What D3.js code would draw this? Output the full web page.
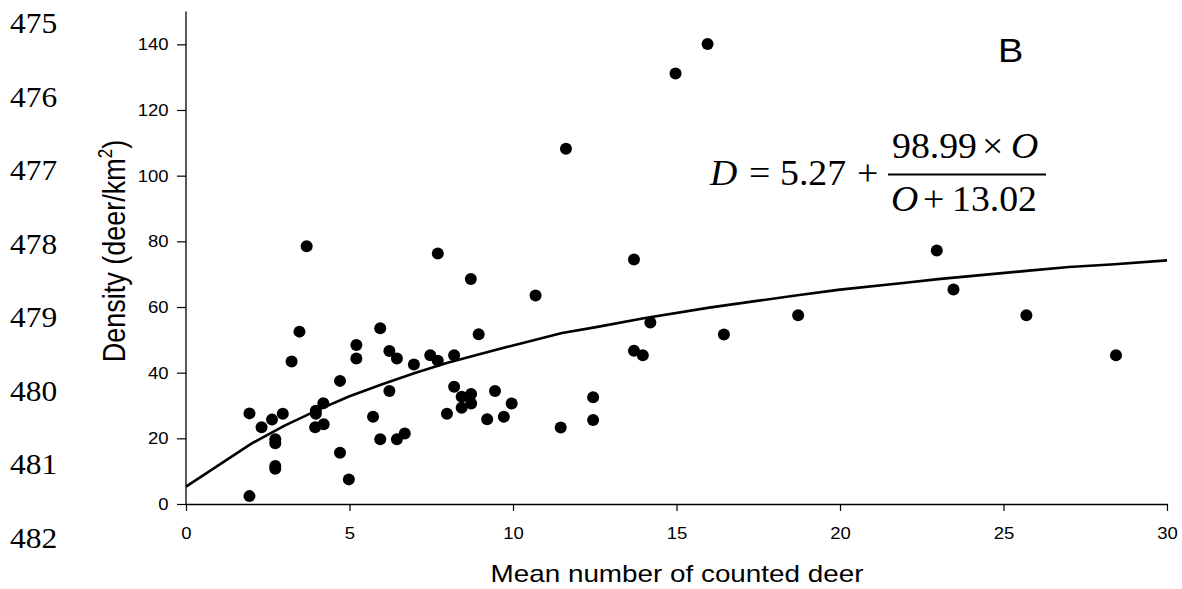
<!DOCTYPE html>
<html>
<head>
<meta charset="utf-8">
<script src="https://cdn.jsdelivr.net/npm/d3@7"></script>
<style>
  html, body { margin: 0; padding: 0; background: #fff; }
  svg { display: block; }
</style>
</head>
<body>
<svg id="chart" width="1182" height="589"></svg>
<script>
// 观测数据：平均计数 (x) 与密度 (y)
const countedDeer = [
  1.94, 2.31, 2.63, 2.96, 2.73, 2.73, 2.73, 2.73, 1.94, 3.23,
  3.47, 3.69, 3.97, 3.97, 4.20, 3.95, 4.21, 4.71, 4.71, 4.98,
  5.21, 5.21, 5.72, 5.94, 5.94, 6.22, 6.45, 6.22, 6.45, 6.69,
  6.97, 7.47, 7.70, 7.70, 8.20, 8.20, 7.98, 8.43, 8.72, 8.43,
  8.72, 8.71, 8.95, 9.21, 9.45, 9.72, 9.96, 10.69, 11.46, 11.62,
  12.45, 12.45, 13.70, 13.70, 13.97, 14.20, 14.97, 15.95, 16.45, 18.72,
  22.96, 23.47, 25.70, 28.44
];
const density = [
  27.6, 23.4, 25.7, 27.5, 19.7, 18.5, 11.6, 10.7, 2.4, 43.4,
  52.5, 78.5, 28.4, 27.5, 30.7, 23.4, 24.3, 37.5, 15.6, 7.5,
  48.4, 44.3, 26.6, 53.5, 19.7, 46.6, 44.3, 34.4, 19.7, 21.5,
  42.5, 45.3, 43.6, 76.3, 45.3, 35.7, 27.5, 32.7, 33.5, 29.3,
  30.6, 68.5, 51.7, 25.8, 34.4, 26.6, 30.6, 63.5, 23.3, 108.2,
  32.5, 25.6, 74.5, 46.7, 45.3, 55.3, 131.1, 140.1, 51.6, 57.5,
  77.2, 65.3, 57.5, 45.3
];

// 拟合曲线
const fitX = [0, 2, 3, 4, 5, 6, 7, 8, 9, 10, 11.5, 12.5, 14, 16, 18.7, 20, 22, 23, 25.7, 27, 28.4, 30];
const fitY = [5.3, 18.4, 23.8, 28.5, 32.8, 36.5, 39.9, 43.0, 45.7, 48.3, 52.1, 53.8, 56.6, 59.8, 63.6, 65.3, 67.4, 68.5, 71.0, 72.2, 73.0, 74.2];

// 刻度
const xTicks = [0, 5, 10, 15, 20, 25, 30];
const yTicks = [0, 20, 40, 60, 80, 100, 120, 140];

// 左侧行号
const lineNumbers = ['475', '476', '477', '478', '479', '480', '481', '482'];

const svg = d3.select('#chart');
const sans = 'Liberation Sans, Arial, Helvetica, sans-serif';
const serif = 'Liberation Serif, Times New Roman, serif';

const x = d3.scaleLinear().domain([0, 30]).range([186, 1167]);
const y = d3.scaleLinear().domain([0, 150]).range([504, 11.5]);

// 行号
const lineY = d3.scalePoint().domain(lineNumbers).range([33, 548]);
svg.append('g')
  .selectAll('text')
  .data(lineNumbers)
  .join('text')
  .attr('transform', d => `translate(10,${lineY(d)}) scale(1.05,1)`)
  .attr('font-family', serif)
  .attr('font-size', '30px')
  .attr('fill', '#000')
  .text(d => d);

// 坐标轴
const yAxis = svg.append('g')
  .attr('transform', `translate(${x(0)},0)`)
  .call(d3.axisLeft(y).tickValues(yTicks).tickSize(9).tickPadding(7).tickSizeOuter(0));

const xAxis = svg.append('g')
  .attr('transform', `translate(0,${y(0)})`)
  .call(d3.axisBottom(x).tickValues(xTicks).tickSize(7).tickPadding(16).tickSizeOuter(0));

[yAxis, xAxis].forEach(ax => {
  ax.select('.domain').attr('stroke', '#000').attr('stroke-width', 1.3);
  ax.selectAll('.tick line').attr('stroke', '#000').attr('stroke-width', 1.2);
  ax.selectAll('.tick text')
    .attr('font-family', sans)
    .attr('font-size', '17px')
    .attr('fill', '#000');
});
// y 轴 domain 延伸到顶部
yAxis.select('.domain').attr('d', `M0,${y(150)}V${y(0)}`);
yAxis.selectAll('.tick text').attr('transform', 'scale(1.09,1)');
xAxis.selectAll('.tick text').attr('transform', 'scale(1.09,1)');

// 拟合曲线
const fitPoints = fitX.map((v, i) => [v, fitY[i]]);
svg.append('path')
  .datum(fitPoints)
  .attr('fill', 'none')
  .attr('stroke', '#000')
  .attr('stroke-width', 2.6)
  .attr('stroke-linejoin', 'round')
  .attr('d', d3.line().x(d => x(d[0])).y(d => y(d[1])));

// 散点
svg.append('g')
  .selectAll('circle')
  .data(countedDeer.map((v, i) => [v, density[i]]))
  .join('circle')
  .attr('cx', d => x(d[0]))
  .attr('cy', d => y(d[1]))
  .attr('r', 6)
  .attr('fill', '#000');

// 轴标题
svg.append('text')
  .attr('transform', 'translate(677,582) scale(1.16,1)')
  .attr('text-anchor', 'middle')
  .attr('font-family', sans)
  .attr('font-size', '24px')
  .attr('fill', '#000')
  .text('Mean number of counted deer');

const yTitle = svg.append('text')
  .attr('transform', 'translate(125,251) scale(1.18,1) rotate(-90)')
  .attr('text-anchor', 'middle')
  .attr('font-family', sans)
  .attr('font-size', '27px')
  .attr('fill', '#000');
yTitle.append('tspan').text('Density (deer/km');
yTitle.append('tspan').attr('dy', -11).attr('font-size', '17px').text('2');
yTitle.append('tspan').attr('dy', 11).text(')');

// 面板标签
svg.append('text')
  .attr('transform', 'translate(998,62) scale(1.15,1)')
  .attr('font-family', sans)
  .attr('font-size', '33px')
  .attr('fill', '#000')
  .text('B');

// 公式
const eq = svg.append('g')
  .attr('font-family', serif)
  .attr('font-size', '35px')
  .attr('fill', '#000');

function eqText(px, py, str, italic) {
  eq.append('text')
    .attr('transform', `translate(${px},${py}) scale(1.08,1)`)
    .attr('font-style', italic ? 'italic' : 'normal')
    .text(str);
}
eqText(710, 185, 'D', true);
eqText(749, 185, '=', false);
eqText(780, 185, '5.27', false);
eqText(857, 185, '+', false);
eqText(892, 158, '98.99', false);
eqText(982, 158, '\u00d7', false);
eqText(1011, 158, 'O', true);
eqText(891, 211, 'O', true);
eqText(923, 211, '+', false);
eqText(952, 211, '13.02', false);
eq.append('line')
  .attr('x1', 888).attr('x2', 1046)
  .attr('y1', 174.5).attr('y2', 174.5)
  .attr('stroke', '#000')
  .attr('stroke-width', 1.8);
</script>
</body>
</html>
